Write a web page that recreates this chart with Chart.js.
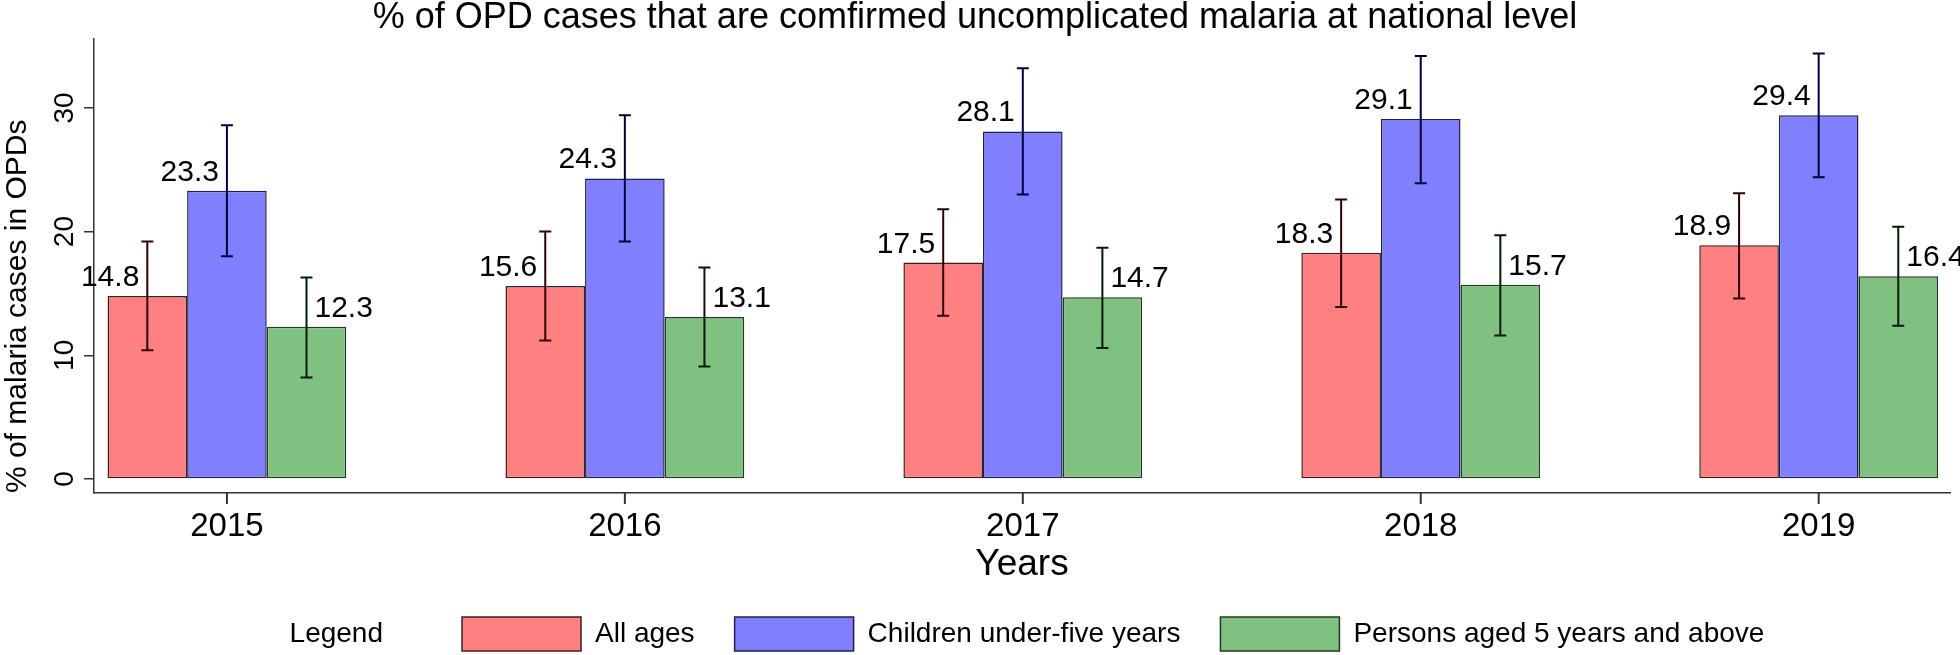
<!DOCTYPE html>
<html><head><meta charset="utf-8">
<script src="https://cdn.jsdelivr.net/npm/chart.js@4.4.1/dist/chart.umd.min.js"></script>
<style>html,body{margin:0;padding:0;background:#fff}#wrap{width:1960px;height:655px}</style>
</head><body><div id="wrap"><canvas id="c" width="1960" height="655"></canvas></div>
<script>
const years = [2015, 2016, 2017, 2018, 2019];
const seriesNames = ['All ages', 'Children under-five years', 'Persons aged 5 years and above'];
const allAges = [14.8, 15.6, 17.5, 18.3, 18.9];
const allAgesLo = [10.4, 11.2, 13.2, 13.9, 14.6];
const allAgesHi = [19.2, 20.0, 21.8, 22.6, 23.1];
const underFive = [23.3, 24.3, 28.1, 29.1, 29.4];
const underFiveLo = [18.0, 19.2, 23.0, 23.9, 24.4];
const underFiveHi = [28.6, 29.4, 33.2, 34.2, 34.4];
const fivePlus = [12.3, 13.1, 14.7, 15.7, 16.4];
const fivePlusLo = [8.2, 9.1, 10.6, 11.6, 12.4];
const fivePlusHi = [16.3, 17.1, 18.7, 19.7, 20.4];
const yTicks = [0, 10, 20, 30];

const FONT = "'Liberation Sans', Arial, Helvetica, sans-serif";

function toPoints(vals) { return years.map((y, i) => ({x: y, y: vals[i]})); }

const fills = ['#ff8080', '#8080ff', '#80c080'];
const borders = ['#3a2020', '#20204a', '#203a20'];
const errColors = ['#2e0000', '#00003c', '#001c00'];
const labelSide = ['left', 'left', 'right'];

const datasets = [
  {label: seriesNames[0], data: toPoints(allAges), lo: allAgesLo, hi: allAgesHi},
  {label: seriesNames[1], data: toPoints(underFive), lo: underFiveLo, hi: underFiveHi},
  {label: seriesNames[2], data: toPoints(fivePlus), lo: fivePlusLo, hi: fivePlusHi}
].map((d, i) => Object.assign(d, {
  backgroundColor: fills[i], borderColor: borders[i], borderWidth: 1.5,
  borderSkipped: false, categoryPercentage: 0.6, barPercentage: 1.0,
  errColor: errColors[i], side: labelSide[i]
}));

const bgPlugin = {
  id: 'bg',
  beforeDraw(chart) {
    const c = chart.ctx; c.save(); c.fillStyle = '#fff';
    c.fillRect(0, 0, chart.width, chart.height); c.restore();
  }
};

const legendShift = {
  id: 'legendShift',
  afterLayout(chart) {
    const lg = chart.legend;
    lg.left = 422;
  },
  afterDraw(chart) {
    const lg = chart.legend;
    if (!lg || !lg.legendHitBoxes || !lg.legendHitBoxes.length) return;
    const hb = lg.legendHitBoxes[0];
    const c = chart.ctx; c.save();
    c.font = '28px ' + FONT; c.fillStyle = '#000';
    c.textAlign = 'right'; c.textBaseline = 'middle';
    c.fillText('Legend', hb.left - 79, hb.top + 17);
    c.restore();
  }
};

const axisMarks = {
  id: 'axisMarks',
  afterDraw(chart) {
    const s = chart.scales.y; const xs = chart.scales.x; const c = chart.ctx;
    c.save();
    c.font = '28px ' + FONT; c.fillStyle = '#000';
    c.textAlign = 'center'; c.textBaseline = 'middle';
    yTicks.forEach(v => {
      const py = s.getPixelForValue(v);
      c.save(); c.translate(s.right - 29, py); c.rotate(-Math.PI / 2);
      c.fillText(String(v), 0, 0); c.restore();
    });
    c.restore();
    const base = chart.chartArea.bottom;
    c.save();
    c.fillStyle = '#333';
    years.forEach(yr => {
      const px = xs.getPixelForValue(yr);
      c.fillRect(px - 1, base, 2, 11);
    });
    c.restore();
  }
};

const errPlugin = {
  id: 'errbars',
  afterDatasetsDraw(chart) {
    const c = chart.ctx; const ys = chart.scales.y;
    chart.data.datasets.forEach((ds, i) => {
      const meta = chart.getDatasetMeta(i);
      meta.data.forEach((el, j) => {
        const x = el.x;
        const yl = ys.getPixelForValue(ds.lo[j]);
        const yh = ys.getPixelForValue(ds.hi[j]);
        c.save(); c.strokeStyle = ds.errColor; c.lineWidth = 2;
        c.beginPath();
        c.moveTo(x, yl); c.lineTo(x, yh);
        c.moveTo(x - 6, yl); c.lineTo(x + 6, yl);
        c.moveTo(x - 6, yh); c.lineTo(x + 6, yh);
        c.stroke(); c.restore();
        c.save(); c.font = '30px ' + FONT; c.fillStyle = '#000';
        c.textBaseline = 'alphabetic';
        const val = ds.data[j].y.toFixed(1);
        if (ds.side === 'left') { c.textAlign = 'right'; c.fillText(val, x - 8, el.y - 10); }
        else { c.textAlign = 'left'; c.fillText(val, x + 8, el.y - 10); }
        c.restore();
      });
    });
  }
};

new Chart(document.getElementById('c'), {
  type: 'bar',
  data: {datasets},
  options: {
    responsive: false, animation: false,
    layout: {padding: {top: 0, left: 0, right: 10, bottom: 0}},
    plugins: {
      title: {display: true, text: '% of OPD cases that are comfirmed uncomplicated malaria at national level',
        color: '#000', font: {family: FONT, size: 36, weight: 'normal', lineHeight: 1.0}, padding: {top: 0, bottom: 3}},
      legend: {display: true, position: 'bottom', align: 'start', maxHeight: 78,
        labels: {boxWidth: 119, boxHeight: 34, padding: 40, color: '#000',
          font: {family: FONT, size: 28}}},
      tooltip: {enabled: false}
    },
    scales: {
      x: {
        type: 'linear', position: 'bottom', min: 2014.666, max: 2019.33, offset: false,
        grid: {display: true, offset: false, drawOnChartArea: false, drawTicks: false, tickLength: 10, color: 'rgba(0,0,0,0)'},
        border: {display: true, color: '#333', width: 1.5},
        ticks: {stepSize: 1, includeBounds: false, autoSkip: false, color: '#000', padding: 14,
          font: {family: FONT, size: 33}, callback: v => String(v)},
        title: {display: true, text: 'Years', color: '#000', font: {family: FONT, size: 37, lineHeight: 1.0}, padding: {top: 0, bottom: -6}},
        afterFit(s) { s.height = 84; }
      },
      y: {
        type: 'linear', min: -1.13, max: 35.57,
        grid: {drawOnChartArea: false, drawTicks: true, tickLength: 10, color: '#333', lineWidth: 1.5},
        border: {display: true, color: '#333', width: 1.5},
        ticks: {stepSize: 10, includeBounds: false, display: false},
        title: {display: true, text: '% of malaria cases in OPDs', color: '#000', align: 'start',
          font: {family: FONT, size: 30}, padding: 0},
        afterFit(s) { s.width = 94; }
      }
    }
  },
  plugins: [bgPlugin, legendShift, axisMarks, errPlugin]
});
</script></body></html>
